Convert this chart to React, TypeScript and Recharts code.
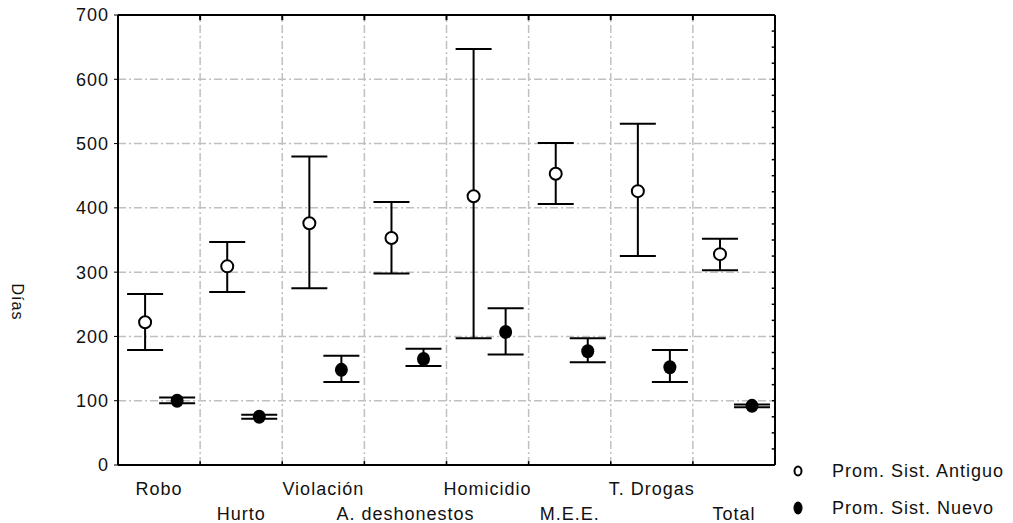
import {
  ComposedChart,
  Scatter,
  ErrorBar,
  XAxis,
  YAxis,
  CartesianGrid,
  Legend,
  ReferenceLine,
} from "recharts";

const categories = [
  "Robo",
  "Hurto",
  "Violación",
  "A. deshonestos",
  "Homicidio",
  "M.E.E.",
  "T. Drogas",
  "Total",
];

// Prom. Sist. Antiguo: media y límites del intervalo
const antiguoMean = [222, 309, 376, 353, 418, 453, 426, 328];
const antiguoLow = [179, 269, 275, 298, 197, 406, 325, 303];
const antiguoHigh = [266, 347, 480, 409, 647, 501, 531, 352];

// Prom. Sist. Nuevo
const nuevoMean = [100, 75, 148, 165, 207, 177, 152, 92];
const nuevoLow = [96, 72, 129, 154, 172, 160, 129, 90];
const nuevoHigh = [105, 78, 170, 181, 244, 197, 179, 94];

const yTicks = [0, 100, 200, 300, 400, 500, 600, 700];
const minorTicks = [
  25, 50, 75, 100, 125, 150, 175, 200, 225, 250, 275, 300, 325, 350, 375,
  400, 425, 450, 475, 500, 525, 550, 575, 600, 625, 650, 675,
];
const bandEdges = [1, 2, 3, 4, 5, 6, 7];

const FONT = "'Liberation Sans', Arial, Helvetica, sans-serif";
const GRID = "#c0c0c0";

const antiguoData = categories.map((name, i) => ({
  name,
  x: i + 0.33,
  y: antiguoMean[i],
  err: [antiguoMean[i] - antiguoLow[i], antiguoHigh[i] - antiguoMean[i]],
}));

const nuevoData = categories.map((name, i) => ({
  name,
  x: i + 0.72,
  y: nuevoMean[i],
  err: [nuevoMean[i] - nuevoLow[i], nuevoHigh[i] - nuevoMean[i]],
}));

const labelTicks = categories.map((_, i) => i + 0.5);

const CategoryTick = (props: any) => {
  const { x, y, payload } = props;
  const i = Math.round(payload.value - 0.5);
  const row = i % 2;
  return (
    <text
      x={x}
      y={y + (row ? 47 : 22)}
      textAnchor="middle"
      fontSize={18}
      letterSpacing={1}
      fill="#111"
      fontFamily={FONT}
    >
      {categories[i]}
    </text>
  );
};

const OpenDot = (props: any) => (
  <circle
    cx={props.cx}
    cy={props.cy}
    r={6}
    fill="#fff"
    stroke="#000"
    strokeWidth={2}
  />
);

const FilledDot = (props: any) => (
  <ellipse cx={props.cx} cy={props.cy} rx={6.5} ry={7} fill="#000" />
);

const LegendContent = () => (
  <svg width={225} height={65} style={{ fontFamily: FONT }}>
    <ellipse cx={10} cy={13} rx={3.5} ry={4.5} fill="#fff" stroke="#000" strokeWidth={2} />
    <text x={44} y={13} dominantBaseline="central" fontSize={18} letterSpacing={1} fill="#111">
      Prom. Sist. Antiguo
    </text>
    <ellipse cx={10} cy={50} rx={4.5} ry={6.5} fill="#000" />
    <text x={44} y={50} dominantBaseline="central" fontSize={18} letterSpacing={1} fill="#111">
      Prom. Sist. Nuevo
    </text>
  </svg>
);

const DiasLabel = (props: any) => {
  const { viewBox } = props;
  return (
    <text
      transform={`translate(${viewBox.x + 17}, ${viewBox.y + 287}) rotate(90)`}
      textAnchor="middle"
      dominantBaseline="central"
      fontSize={16}
      letterSpacing={1}
      fill="#111"
      fontFamily={FONT}
    >
      Días
    </text>
  );
};

export default function App() {
  return (
    <div
      style={{
        position: "absolute",
        left: 0,
        top: 0,
        background: "#fff",
        fontFamily: FONT,
      }}
    >
      <ComposedChart
        width={1013}
        height={523}
        margin={{ top: 15, right: 238, left: 0, bottom: 0 }}
      >
        <CartesianGrid
          vertical={false}
          stroke={GRID}
          strokeWidth={1.5}
          strokeDasharray="8 3 2 3"
        />
        <XAxis
          dataKey="x"
          type="number"
          domain={[0, 8]}
          ticks={labelTicks}
          height={58}
          tickLine={false}
          axisLine={{ stroke: "#000", strokeWidth: 2 }}
          tick={<CategoryTick />}
          interval={0}
          allowDataOverflow
        />
        <YAxis
          dataKey="y"
          type="number"
          domain={[0, 700]}
          ticks={yTicks}
          width={118}
          tickSize={4}
          tickMargin={5}
          tickLine={{ stroke: "#000" }}
          axisLine={{ stroke: "#000", strokeWidth: 2 }}
          tick={{ fontSize: 18, fill: "#111", letterSpacing: 1, fontFamily: FONT }}
          label={<DiasLabel />}
          allowDataOverflow
        />
        {bandEdges.map((e) => (
          <ReferenceLine
            key={`g-${e}`}
            x={e}
            stroke={GRID}
            strokeWidth={1.5}
            strokeDasharray="8 3 2 3"
          />
        ))}
        {/* marco superior y derecho */}
        <ReferenceLine y={700} stroke="#000" strokeWidth={2} />
        <ReferenceLine x={8} stroke="#000" strokeWidth={2} />
        {bandEdges.map((e) => (
          <ReferenceLine
            key={`t-${e}`}
            segment={[
              { x: e, y: 700 },
              { x: e, y: 692 },
            ]}
            stroke="#000"
            strokeWidth={2}
          />
        ))}
        {bandEdges.map((e) => (
          <ReferenceLine
            key={`b-${e}`}
            segment={[
              { x: e, y: 0 },
              { x: e, y: 6 },
            ]}
            stroke="#000"
            strokeWidth={1.5}
          />
        ))}
        {minorTicks.map((v) => (
          <ReferenceLine
            key={`r-${v}`}
            segment={[
              { x: 8, y: v },
              { x: 7.96, y: v },
            ]}
            stroke="#000"
            strokeWidth={1.5}
          />
        ))}
        <Legend
          layout="vertical"
          align="center"
          verticalAlign="middle"
          wrapperStyle={{ left: 788, top: 458, width: 225 }}
          content={<LegendContent />}
        />
        <Scatter
          name="Prom. Sist. Antiguo"
          data={antiguoData}
          shape={<OpenDot />}
          isAnimationActive={false}
        >
          <ErrorBar dataKey="err" direction="y" width={18} stroke="#000" strokeWidth={2} />
        </Scatter>
        <Scatter
          name="Prom. Sist. Nuevo"
          data={nuevoData}
          shape={<FilledDot />}
          isAnimationActive={false}
        >
          <ErrorBar dataKey="err" direction="y" width={18} stroke="#000" strokeWidth={2} />
        </Scatter>
      </ComposedChart>
    </div>
  );
}
